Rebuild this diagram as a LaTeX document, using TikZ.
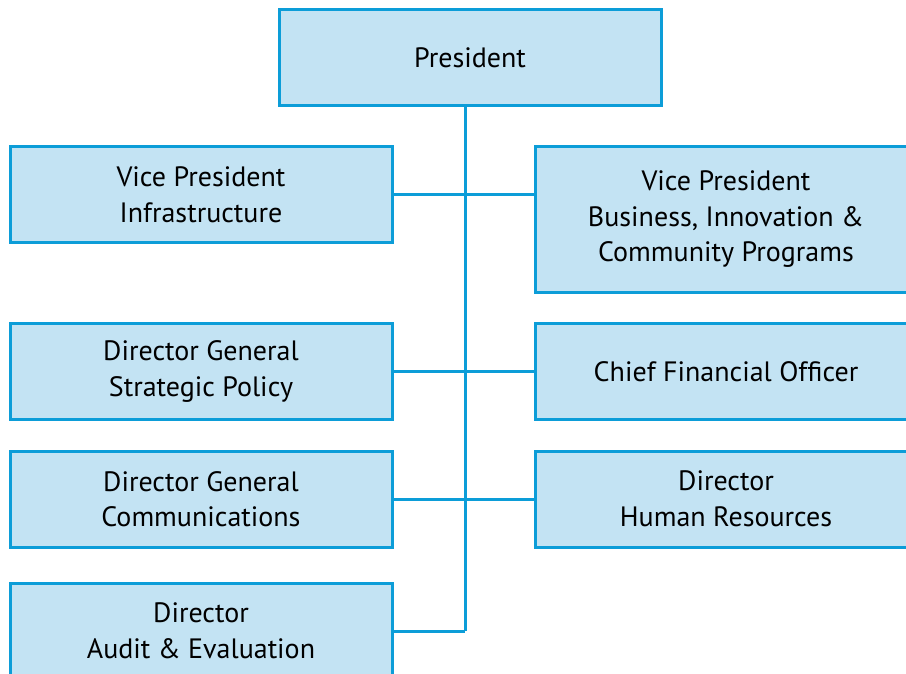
\documentclass[tikz,border=0pt]{standalone}
\usepackage{fontspec}
\setmainfont{PT Sans}
\usepackage{tikz}
\usetikzlibrary{positioning, calc}
\definecolor{boxfill}{HTML}{C3E3F3}
\definecolor{boxline}{HTML}{0C9DD8}
\tikzset{orgbox/.style={rectangle,draw=boxline,fill=boxfill,line width=3pt,align=center,minimum width=382pt,minimum height=96pt,inner sep=0pt,font=\fontsize{28}{35.5}\selectfont},
         link/.style={draw=boxline,line width=3pt}}

\begin{document}
\begin{tikzpicture}[x=1pt,y=-1pt]
    \clip (0,0) rectangle (906,674);
    \node (pres) [orgbox] at (470,58) {President};
    \node (vpi) [orgbox] at (201,195) {Vice President\\Infrastructure};
    \node (vpb) [orgbox, minimum height=145pt] at (726,219.5) {Vice President\\Business, Innovation \&\\Community Programs};
    \node (dgs) [orgbox] at (201,371.5) {Director General\\Strategic Policy};
    \node (cfo) [orgbox] at (726,371.5) {Chief Financial Officer};
    \node (dgc) [orgbox] at (201,499) {Director General\\Communications};
    \node (dhr) [orgbox] at (726,499) {Director\\Human Resources};
    \node (dae) [orgbox] at (201,631) {Director\\Audit \& Evaluation};
    \coordinate (top) at (465,106);
    \coordinate (bot) at (465,631);
    \draw[link] (top) -- (bot);
    \foreach \i/\j in {vpi/vpb,dgs/cfo,dgc/dhr} {\draw[link] (\i.east) -- (\i.east -| \j.west);}
    \draw[link] (dae.east) -- (bot);
\end{tikzpicture}
\end{document}
